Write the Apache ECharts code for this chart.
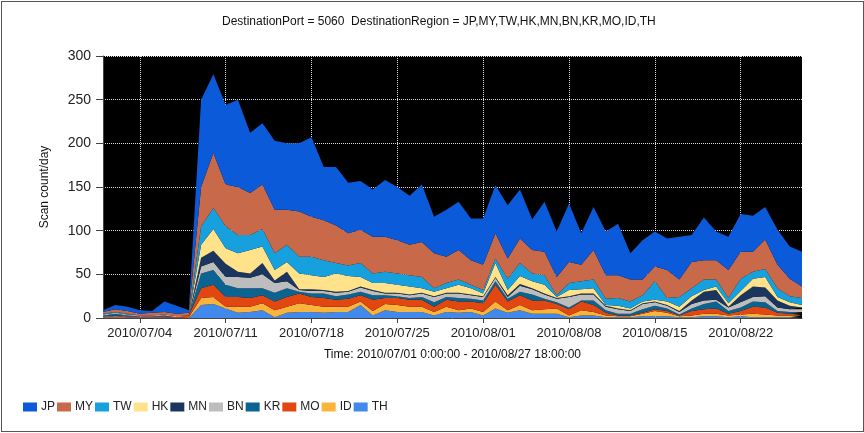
<!DOCTYPE html>
<html>
<head>
<meta charset="utf-8">
<script src="https://cdn.jsdelivr.net/npm/echarts@6/dist/echarts.min.js"></script>
<style>
  html, body { margin: 0; padding: 0; background: #fff; }
  #main { width: 864px; height: 433px; }
  #frame { position: absolute; left: 1px; top: 1px; width: 861px; height: 429px; border: 1px solid #555; pointer-events: none; }
</style>
</head>
<body>
<div id="main"></div>
<div id="frame"></div>
<script>
var days = [
  '2010/07/01','2010/07/02','2010/07/03','2010/07/04','2010/07/05','2010/07/06','2010/07/07','2010/07/08','2010/07/09','2010/07/10',
  '2010/07/11','2010/07/12','2010/07/13','2010/07/14','2010/07/15','2010/07/16','2010/07/17','2010/07/18','2010/07/19','2010/07/20',
  '2010/07/21','2010/07/22','2010/07/23','2010/07/24','2010/07/25','2010/07/26','2010/07/27','2010/07/28','2010/07/29','2010/07/30',
  '2010/07/31','2010/08/01','2010/08/02','2010/08/03','2010/08/04','2010/08/05','2010/08/06','2010/08/07','2010/08/08','2010/08/09',
  '2010/08/10','2010/08/11','2010/08/12','2010/08/13','2010/08/14','2010/08/15','2010/08/16','2010/08/17','2010/08/18','2010/08/19',
  '2010/08/20','2010/08/21','2010/08/22','2010/08/23','2010/08/24','2010/08/25','2010/08/26','2010/08/27'
];

// stack order bottom -> top
var TH = [1,1,1,1,1,1,0,0, 15,16,11,6,7,9,1,6,7,7,6,7,7,15,3,9,7,7,7,3,7,6,7,3,11,6,9,5,5,5,1,3,3,1,1,1,2,2,2,1,1,2,2,1,2,1,1,1,1,1];
var ID = [0,1,0,0,0,0,0,1, 8,8,2,7,6,8,8,7,10,8,7,6,6,4,5,7,8,6,6,4,6,3,4,4,8,3,6,4,5,6,2,6,4,2,1,1,3,6,4,1,2,3,3,2,2,4,3,2,2,2];
var MO = [1,1,1,1,1,1,1,2, 11,14,11,11,10,9,10,11,11,9,10,8,9,7,13,7,8,8,8,6,8,10,8,10,19,10,11,11,10,5,7,10,8,3,1,1,1,2,2,1,5,5,6,2,4,8,8,3,2,2];
var KR = [1,2,1,0,0,1,0,0, 17,17,14,10,11,8,10,10,2,4,5,4,5,4,5,3,2,2,3,5,3,4,3,3,4,3,4,7,2,2,2,1,5,3,2,2,4,4,3,1,3,6,8,3,4,6,6,2,2,2];
var BN = [1,1,1,1,1,1,1,0, 8,9,9,13,12,16,11,8,2,3,3,4,3,5,5,2,3,3,4,6,4,5,4,4,4,2,7,6,5,4,12,7,7,4,5,3,6,4,3,3,5,4,2,4,6,5,7,4,3,3];
var MN = [0,0,0,0,0,0,0,0, 10,13,15,6,5,13,3,11,1,2,1,1,1,1,1,1,1,1,1,1,1,1,1,1,1,2,2,1,1,1,1,1,1,1,1,1,1,1,1,1,4,10,11,1,8,12,10,8,4,2];
var HK = [0,0,0,0,0,0,0,0, 15,25,18,21,27,19,12,11,18,16,15,21,17,11,8,11,9,9,5,5,5,9,7,3,16,6,9,8,10,1,7,5,6,1,3,2,2,2,4,5,5,2,4,4,5,9,12,4,4,3];
var TW = [1,1,1,0,0,0,0,0, 21,24,25,21,17,20,19,20,19,21,19,12,12,16,11,13,13,13,13,4,6,6,4,4,5,13,15,9,11,2,8,9,10,7,9,8,7,21,4,11,9,12,8,6,14,8,9,10,7,8];
var MY = [2,3,3,2,3,3,3,3, 45,63,48,55,48,51,50,40,52,46,46,43,37,38,42,40,38,35,40,40,30,34,28,29,29,23,28,27,27,21,24,19,34,27,26,25,18,17,32,20,30,22,22,32,31,23,34,27,20,13];
var JP = [2,5,5,4,2,12,9,3, 100,90,91,100,69,70,79,76,78,91,61,67,58,56,54,65,61,56,66,42,54,55,48,53,55,61,56,35,57,52,67,36,49,50,59,30,45,40,36,49,31,49,33,38,43,41,37,40,37,40];

var regions = ['TH','ID','MO','KR','BN','MN','HK','TW','MY','JP'];
var values = [TH, ID, MO, KR, BN, MN, HK, TW, MY, JP];
var colors = ['#4189EC','#FAB43E','#E24712','#0B6391','#BDBDBD','#1B365E','#FFE28A','#16A0DE','#C8694A','#0A5AD9'];
var legendOrder = ['JP','MY','TW','HK','MN','BN','KR','MO','ID','TH'];
var yTicks = [0, 50, 100, 150, 200, 250, 300];

var myChart = echarts.init(document.getElementById('main'));

// label, tick and grid line every 7 days starting at 07/04
function weekly(index) {
    return index >= 3 && (index - 3) % 7 === 0;
}

var series = regions.map(function (name, i) {
    return {
        name: name,
        type: 'line',
        stack: 'total',
        data: values[i],
        showSymbol: false,
        symbol: 'none',
        lineStyle: { width: 0 },
        areaStyle: { color: colors[i], opacity: 1 },
        itemStyle: { color: colors[i] }
    };
});

var font = '"Liberation Sans", Arial, sans-serif';

var option = {
    animation: false,
    textStyle: { fontFamily: font },
    title: {
        text: 'DestinationPort = 5060  DestinationRegion = JP,MY,TW,HK,MN,BN,KR,MO,ID,TH',
        left: 217,
        top: 11,
        textStyle: { fontSize: 12, fontWeight: 'normal', color: '#111', fontFamily: font }
    },
    legend: {
        data: legendOrder,
        left: 18,
        top: 396,
        icon: 'rect',
        itemWidth: 14,
        itemHeight: 9,
        itemGap: 2,
        textStyle: { fontSize: 12, color: '#222', fontFamily: font, padding: [0, 0, 0, -1] }
    },
    grid: {
        left: 103,
        top: 56,
        right: 62,
        bottom: 115,
        show: true,
        backgroundColor: '#000',
        borderWidth: 0
    },
    xAxis: {
        type: 'category',
        data: days,
        boundaryGap: false,
        name: 'Time: 2010/07/01 0:00:00 - 2010/08/27 18:00:00',
        nameLocation: 'middle',
        nameGap: 31,
        nameTextStyle: { fontSize: 12, color: '#111', fontFamily: font },
        axisLine: { lineStyle: { color: '#444' } },
        axisTick: { interval: weekly, length: 5, lineStyle: { color: '#444' } },
        axisLabel: { interval: weekly, fontSize: 13, color: '#222', margin: 9, fontFamily: font },
        splitLine: { show: true, interval: weekly, lineStyle: { color: '#ddd', type: 'dotted', width: 1 } }
    },
    yAxis: {
        type: 'value',
        min: yTicks[0],
        max: yTicks[yTicks.length - 1],
        interval: 50,
        name: 'Scan count/day',
        nameLocation: 'middle',
        nameGap: 52,
        nameTextStyle: { fontSize: 12, color: '#111', fontFamily: font },
        axisLine: { show: true, lineStyle: { color: '#444' } },
        axisTick: { show: true, length: 7, lineStyle: { color: '#444' } },
        axisLabel: { fontSize: 14, color: '#222', margin: 12, fontFamily: font },
        splitLine: { show: true, lineStyle: { color: '#ddd', type: 'dotted', width: 1 } }
    },
    series: series
};

myChart.setOption(option);
</script>
</body>
</html>
